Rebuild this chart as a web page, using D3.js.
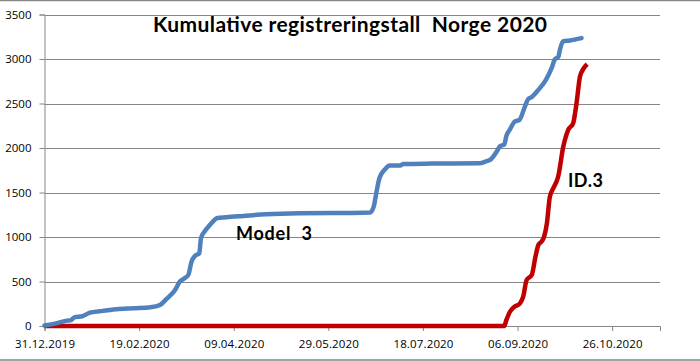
<!DOCTYPE html>
<html>
<head>
<meta charset="utf-8">
<script src="https://cdn.jsdelivr.net/npm/d3@7"></script>
<style>
  body { margin: 0; background: #fff; }
  text { font-family: "Open Sans", sans-serif; }
</style>
</head>
<body>
<svg id="chart" width="700" height="361"></svg>
<script>
// days since 31.12.2019 and cumulative count

const model3Days = [0, 6, 12, 14, 16, 20, 24, 29, 38, 47, 56, 61, 64.5, 69, 71.5, 74, 76, 77.7, 79.5, 81.8, 82.7, 84.8, 87.4, 89, 91, 96, 105, 117, 135, 161, 172, 174, 175.5, 177, 180, 182.5, 188, 189.6, 205, 230, 233, 236, 239, 240.7, 243, 244, 246, 248.6, 251, 253.9, 255.6, 257.4, 261, 265, 268, 269.8, 271.5, 272.4, 274, 277.6, 283.8];
const model3Values = [5, 30, 60, 67, 100, 110, 150, 165, 188, 199, 210, 236, 304, 405, 498, 536, 573, 723, 787, 817, 986, 1068, 1135, 1173, 1211, 1222, 1237, 1256, 1267, 1270, 1274, 1341, 1510, 1660, 1762, 1802, 1802, 1821, 1825, 1829, 1847, 1874, 1960, 2020, 2040, 2128, 2210, 2297, 2316, 2466, 2549, 2571, 2653, 2766, 2897, 2998, 3021, 3103, 3197, 3208, 3235];

const id3Days = [0, 243, 244, 246, 248, 251.3, 253, 254.8, 257.5, 259.5, 261, 262.7, 264, 265.5, 267.1, 268.9, 271.5, 274.2, 276.8, 279.4, 281.2, 283, 284.7, 286.8];
const id3Values = [0, 0, 60, 160, 210, 255, 330, 517, 573, 780, 911, 948, 1000, 1150, 1454, 1548, 1679, 2016, 2204, 2279, 2504, 2803, 2886, 2942];

const tickDays = [0, 50, 100, 150, 200, 250, 300];
const tickLabels = ['31.12.2019', '19.02.2020', '09.04.2020', '29.05.2020', '18.07.2020', '06.09.2020', '26.10.2020'];
const yTicks = [0, 500, 1000, 1500, 2000, 2500, 3000, 3500];

const svg = d3.select('#chart');
const gridColor = '#868686';

const x = d3.scaleLinear().domain([0, 325.3]).range([44.5, 660]);
const y = d3.scaleLinear().domain([0, 3500]).range([326, 14.5]);

// frame lines
svg.append('line').attr('x1', 0).attr('x2', 700).attr('y1', 0.5).attr('y2', 0.5)
    .attr('stroke', gridColor).attr('stroke-width', 1.5);
svg.append('line').attr('x1', 0).attr('x2', 700).attr('y1', 360).attr('y2', 360)
    .attr('stroke', gridColor).attr('stroke-width', 1.5);

// gridlines
svg.append('g')
    .selectAll('line')
    .data(yTicks.filter(d => d > 0))
    .enter().append('line')
    .attr('x1', x(0)).attr('x2', x(325.3))
    .attr('y1', d => Math.round(y(d)) + 0.5).attr('y2', d => Math.round(y(d)) + 0.5)
    .attr('stroke', gridColor);

const yAxis = svg.append('g')
    .attr('transform', `translate(${x(0)},0)`)
    .call(d3.axisLeft(y).tickValues(yTicks).tickSize(5).tickPadding(8).tickFormat(d3.format('d')));

const xAxis = svg.append('g')
    .attr('transform', `translate(0,${y(0)})`)
    .call(d3.axisBottom(x).tickValues(tickDays).tickSize(5).tickPadding(9)
        .tickFormat((d, i) => tickLabels[i]));

[xAxis, yAxis].forEach(a => {
    a.select('.domain').attr('stroke', gridColor);
    a.selectAll('.tick line').attr('stroke', gridColor);
    a.selectAll('text').attr('font-size', 11.5).attr('fill', '#000')
        .style('font-family', '"Open Sans", sans-serif');
});
xAxis.selectAll('text').attr('textLength', 60);

const line = d3.line()
    .x(d => x(d[0]))
    .y(d => y(d[1]))
    .curve(d3.curveMonotoneX);

svg.append('path')
    .datum(id3Days.map((d, i) => [d, id3Values[i]]))
    .attr('d', line)
    .attr('fill', 'none')
    .attr('stroke', '#C00000')
    .attr('stroke-width', 4.5)
    .attr('stroke-linejoin', 'round');

svg.append('path')
    .datum(model3Days.map((d, i) => [d, model3Values[i]]))
    .attr('d', line)
    .attr('fill', 'none')
    .attr('stroke', '#4F81BD')
    .attr('stroke-width', 4.5)
    .attr('stroke-linejoin', 'round')
    .attr('stroke-linecap', 'round');

// title and labels
svg.append('text')
    .attr('x', 153).attr('y', 32)
    .attr('font-size', 21).attr('font-weight', 'bold')
    .style('font-family', 'Lato, sans-serif')
    .attr('textLength', 394)
    .text('Kumulative registreringstall\u00a0 Norge 2020');

svg.append('text')
    .attr('x', 236).attr('y', 240)
    .attr('font-size', 18).attr('font-weight', 'bold')
    .style('font-family', 'Lato, sans-serif')
    .attr('textLength', 76)
    .text('Model\u00a0 3');

svg.append('text')
    .attr('x', 568).attr('y', 187)
    .attr('font-size', 18).attr('font-weight', 'bold')
    .style('font-family', 'Lato, sans-serif')
    .attr('textLength', 35)
    .text('ID.3');
</script>
</body>
</html>
